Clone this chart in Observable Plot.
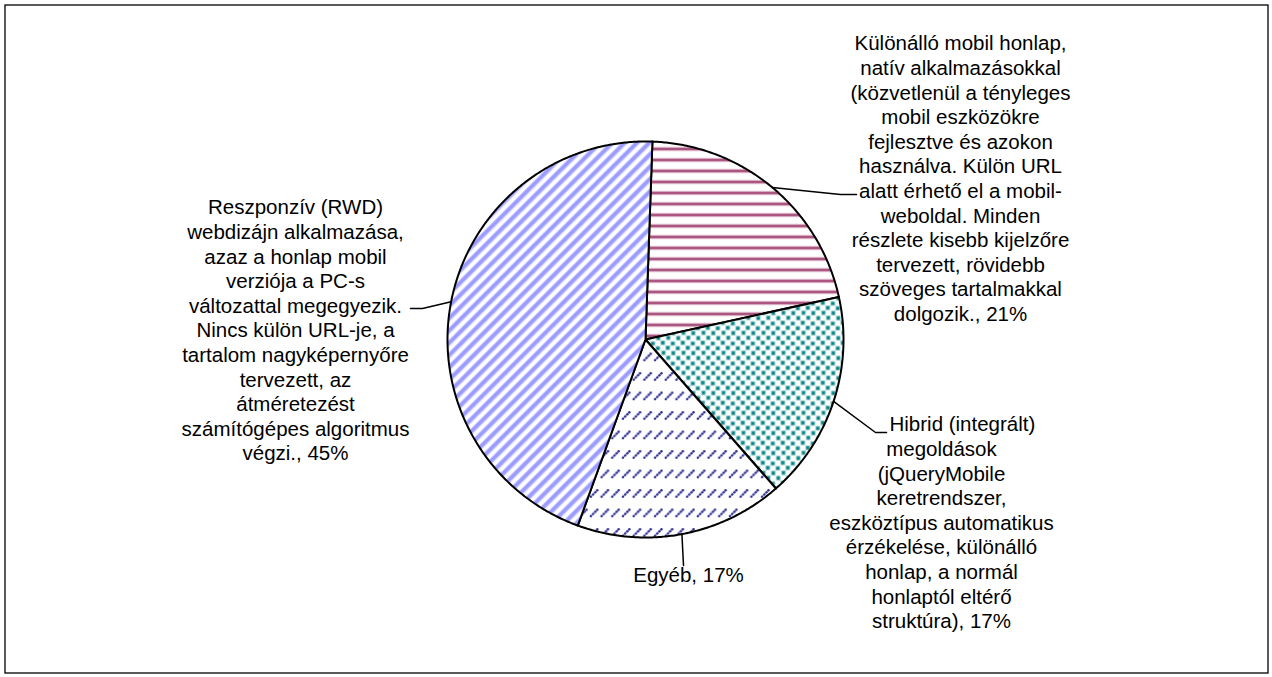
<!DOCTYPE html>
<html><head><meta charset="utf-8">
<script src="https://cdn.jsdelivr.net/npm/d3@7"></script>
<script src="https://cdn.jsdelivr.net/npm/@observablehq/plot@0.6"></script>
<style>html,body{margin:0;padding:0;background:#fff} svg{display:block}</style>
</head><body><div id="chart"></div>
<script>
// ---- data ----
const categories = [
  "Különálló mobil honlap,\nnatív alkalmazásokkal\n(közvetlenül a tényleges\nmobil eszközökre\nfejlesztve és azokon\nhasználva. Külön URL\nalatt érhető el a mobil-\nweboldal. Minden\nrészlete kisebb kijelzőre\ntervezett, rövidebb\nszöveges tartalmakkal\ndolgozik.",
  "Hibrid (integrált)\nmegoldások\n(jQueryMobile\nkeretrendszer,\neszköztípus automatikus\nérzékelése, különálló\nhonlap, a normál\nhonlaptól eltérő\nstruktúra)",
  "Egyéb",
  "Reszponzív (RWD)\nwebdizájn alkalmazása,\nazaz a honlap mobil\nverziója a PC-s\nváltozattal megegyezik.\nNincs külön URL-je, a\ntartalom nagyképernyőre\ntervezett, az\nátméretezést\nszámítógépes algoritmus\nvégzi."
];
const values = [21, 17, 17, 45];

// ---- layout (not data) ----
const W = 1272, H = 677;
const cx = 645, cy = 339, R = 198, startDeg = 2;
const fontSize = 20.5, lineH = 1.2;
// [x center, y of first line centre]
const labelPos = [[960, 42], [941, 423], [688, 574], [295, 206]];
// first line of a label may start right after its leader (left-aligned), as in the original
const firstLineStart = [null, 889, null, null];
const elbows = [[[840, 194], [856, 194]], [[875, 432], [886, 432]], [[683, 565]], [[422, 308], [410, 308]]];
const patternIds = ["p-kul", "p-hib", "p-egy", "p-resz"];

const a0 = startDeg * Math.PI / 180;
const arcs = d3.pie().sort(null).value(d => d).startAngle(a0).endAngle(a0 + 2 * Math.PI)(values);

const slices = arcs.map(a => {
  const pts = [[cx, cy]];
  const n = Math.ceil((a.endAngle - a.startAngle) / (Math.PI / 360));
  for (let k = 0; k <= n; k++) {
    const t = a.startAngle + (a.endAngle - a.startAngle) * k / n;
    pts.push([cx + R * Math.sin(t), cy - R * Math.cos(t)]);
  }
  pts.push([cx, cy]);
  return pts;
});

const leaders = arcs.map((a, i) => {
  const m = (a.startAngle + a.endAngle) / 2;
  return [[cx + R * Math.sin(m), cy - R * Math.cos(m)], ...elbows[i]];
});

const step = fontSize * lineH;
const centred = [], leftLines = [];
categories.forEach((c, i) => {
  let lines = `${c}, ${values[i]}%`.split("\n");
  let y0 = labelPos[i][1];
  if (firstLineStart[i] != null) {
    leftLines.push({x: firstLineStart[i], y: y0, text: lines[0]});
    lines = lines.slice(1);
    y0 += step;
  }
  centred.push({x: labelPos[i][0], y: y0 + (lines.length - 1) * step / 2, text: lines.join("\n")});
});

const marks = [];
slices.forEach((s, i) => {
  marks.push(Plot.line(s, {x: d => d[0], y: d => d[1], fill: `url(#${patternIds[i]})`, stroke: "black", strokeWidth: 2, strokeLinejoin: "round"}));
});
leaders.forEach(l => {
  marks.push(Plot.line(l, {x: d => d[0], y: d => d[1], stroke: "black", strokeWidth: 1.5}));
});
const textOpts = {x: "x", y: "y", text: "text", fontSize, lineHeight: lineH, lineAnchor: "middle",
  fill: "black", fontFamily: "Liberation Sans, Arial, sans-serif"};
marks.push(Plot.text(centred, {...textOpts, textAnchor: "middle"}));
marks.push(Plot.text(leftLines, {...textOpts, textAnchor: "start"}));
marks.push(Plot.frame({stroke: "black", strokeWidth: 1.3, inset: 4.5}));

const svg = Plot.plot({
  width: W, height: H,
  margin: 0,
  x: {domain: [0, W], range: [0, W], axis: null},
  y: {domain: [0, H], range: [0, H], axis: null},
  style: {background: "white", fontFamily: "Liberation Sans, Arial, sans-serif"},
  marks
});

const defs = `
<pattern id="p-kul" patternUnits="userSpaceOnUse" width="8" height="11">
  <rect width="8" height="11" fill="white"/>
  <rect y="3.5" width="8" height="4" fill="#e2bdd0"/>
  <rect y="4.5" width="8" height="2" fill="#993366"/>
</pattern>
<pattern id="p-hib" patternUnits="userSpaceOnUse" width="20" height="20">
  <rect width="20" height="20" fill="white"/>
  <g fill="#008080" stroke="#70b9b9" stroke-width="0.8">
    <rect x="0.5" y="0.5" width="3.6" height="3.6"/>
    <rect x="10.5" y="1.2" width="3.6" height="3.6"/>
    <rect x="5.5" y="5.5" width="3.6" height="3.6"/>
    <rect x="15.5" y="6" width="3.6" height="3.6"/>
    <rect x="1.2" y="10.5" width="3.6" height="3.6"/>
    <rect x="11" y="10.8" width="3.6" height="3.6"/>
    <rect x="6" y="15.5" width="3.6" height="3.6"/>
    <rect x="16" y="15.8" width="3.6" height="3.6"/>
  </g>
</pattern>
<pattern id="p-egy" patternUnits="userSpaceOnUse" width="10.7" height="19.5">
  <rect width="10.7" height="19.5" fill="white"/>
  <line x1="1.5" y1="9" x2="8.5" y2="2" stroke="#a4a4da" stroke-width="2"/>
  <g fill="#2a2a8c">
    <circle cx="1.8" cy="8.7" r="1.15"/>
    <circle cx="4.1" cy="6.4" r="1.15"/>
    <circle cx="6.3" cy="4.2" r="1.15"/>
    <circle cx="8.3" cy="2.2" r="1.15"/>
  </g>
</pattern>
<pattern id="p-resz" patternUnits="userSpaceOnUse" width="8.7" height="8.7" patternTransform="rotate(45)">
  <rect width="8.7" height="8.7" fill="white"/>
  <rect x="0" width="5.2" height="8.7" fill="#cacaff"/>
  <rect x="1" width="3.2" height="8.7" fill="#9b9bff"/>
</pattern>`;
const d = document.createElementNS("http://www.w3.org/2000/svg", "defs");
d.innerHTML = defs;
svg.insertBefore(d, svg.firstChild);

document.getElementById("chart").appendChild(svg);
</script>
</body></html>
